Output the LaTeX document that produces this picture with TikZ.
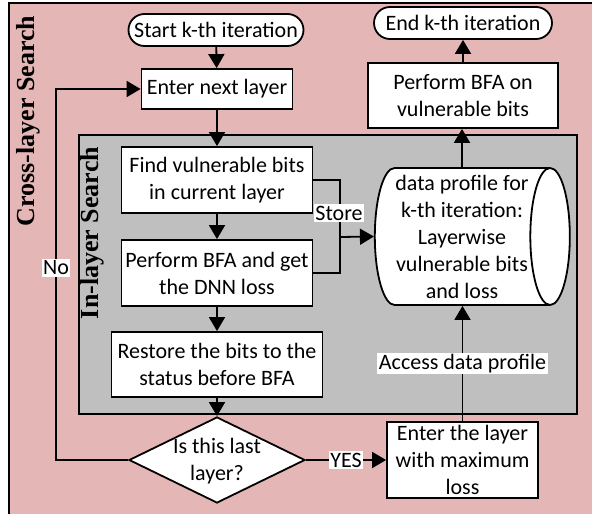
\documentclass[tikz,border=0pt]{standalone}
\usepackage{fontspec}
\setmainfont{Carlito}
\newfontfamily\headfont{Liberation Serif}
\usetikzlibrary{arrows.meta,shapes.geometric}
\definecolor{crosspink}{RGB}{228,182,181}
\definecolor{inlgray}{RGB}{191,191,191}
\tikzset{
  box/.style={draw,fill=white,line width=1.8pt,align=center,inner sep=0pt},
  term/.style={box,rounded corners=16pt,minimum height=32pt},
  arr/.style={line width=1.8pt,-{Triangle[width=16pt,length=14pt]}},
  tag/.style={fill=white,inner sep=1.5pt},
  side/.style={font=\headfont\bfseries\fontsize{26}{30}\selectfont,rotate=90}
}
\begin{document}
\begin{tikzpicture}[x=1pt,y=-1pt,font=\fontsize{22}{27}\selectfont]
  \useasboundingbox (0,0) rectangle (592,514);
  \clip (0,0) rectangle (592,514);
  % search regions
  \draw[fill=crosspink,line width=1.8pt] (9,3) rectangle (610,530);
  \draw[fill=inlgray,line width=1.8pt] (79,135) rectangle (577,414);
  \node[side] (cross) at (28,121) {Cross-layer Search};
  \node[side] (inl) at (92,233) {In-layer Search};

  % left column
  \node[term,minimum width=175pt] (start) at (216,30) {Start k-th iteration};
  \node[box,minimum width=151pt,minimum height=40pt] (next) at (217,89) {Enter next layer};
  \node[box,minimum width=191pt,minimum height=66pt] (find) at (217,180) {Find vulnerable bits\\in current layer};
  \node[box,minimum width=191pt,minimum height=66pt] (perf) at (217,273) {Perform BFA and get\\the DNN loss};
  \node[box,minimum width=211pt,minimum height=65pt] (rest) at (217,364.5) {Restore the bits to the\\status before BFA};
  \node[box,diamond,minimum width=176pt,minimum height=86pt] (last) at (217,460) {};
  \node[align=center] (lasttxt) at (217,461) {Is this last\\layer?};

  % right column
  \node[box,minimum width=151pt,minimum height=76pt] (maxl) at (462.5,460) {Enter the layer\\with maximum\\loss};
  \node[box,cylinder,aspect=0.32,minimum width=137pt,minimum height=195pt] (prof) at (462,236.5)
    {data profile for\\k-th iteration:\\Layerwise\\vulnerable bits\\and loss};
  \node[box,minimum width=190pt,minimum height=65pt] (bfa) at (463,95.5) {Perform BFA on\\vulnerable bits};
  \node[term,minimum width=178pt] (end) at (463,23) {End k-th iteration};

  % flow
  \draw[arr] (start) -- (next);
  \draw[arr] (next) -- (find);
  \draw[arr] (find) -- (perf);
  \draw[arr] (perf) -- (rest);
  \draw[arr] (rest) -- (last);
  \draw[arr] (last) -- node[tag] (yes) {YES} (maxl);
  \draw[arr] (maxl.north) -- node[tag] (acc) {Access data profile} (maxl.north |- prof.south);
  \draw[arr] (prof.north) -- (prof.north |- bfa.south);
  \draw[arr] (bfa) -- (end);
  \coordinate (back) at (56,460);
  \draw[arr] (last.west) -- (back) |- (next.west);
  \node[tag] (no) at (56,268) {No};
  \coordinate (st) at (340,237);
  \draw[line width=1.8pt] (find.east) -| (st) |- (perf.east);
  \draw[arr] (st) -- (prof.west);
  \node[tag] (store) at (339,213) {Store};
\end{tikzpicture}
\end{document}
